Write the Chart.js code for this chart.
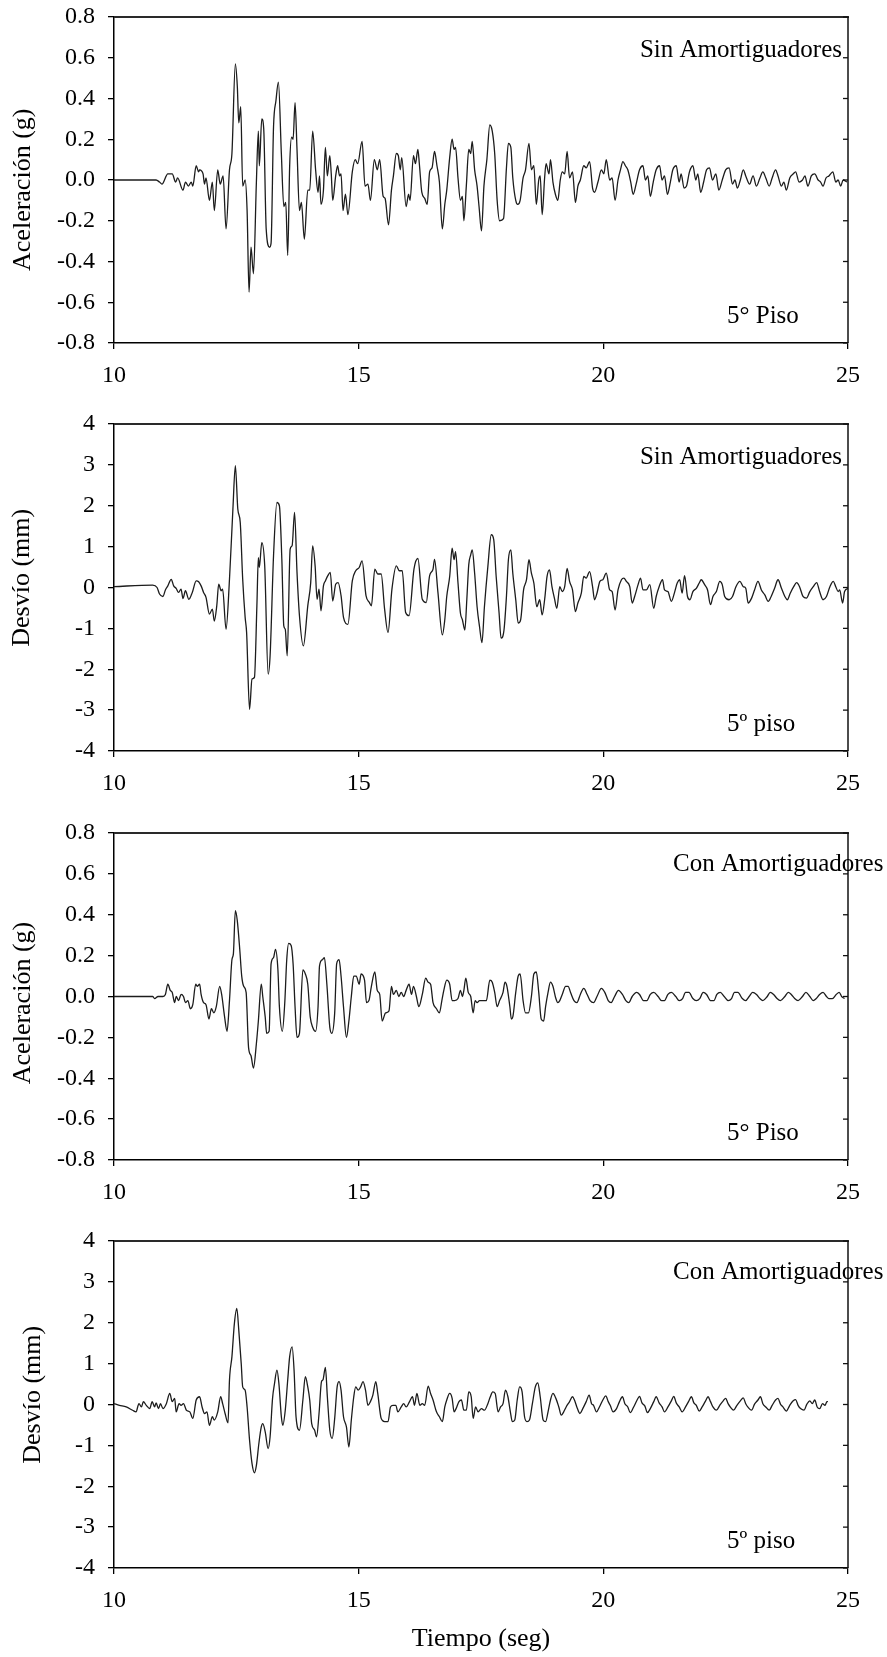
<!DOCTYPE html>
<html>
<head>
<meta charset="utf-8">
<script src="https://cdn.jsdelivr.net/npm/chart.js@4.4.1/dist/chart.umd.min.js"></script>
<style>
  html, body { margin: 0; padding: 0; background: #fff; }
  #wrap { position: relative; width: 887px; height: 1657px; }
  canvas { position: absolute; left: 0; }
</style>
</head>
<body>
<div id="wrap">
  <canvas id="c1" width="887" height="408" style="top:0px"></canvas>
  <canvas id="c2" width="887" height="408" style="top:408px"></canvas>
  <canvas id="c3" width="887" height="408" style="top:816px"></canvas>
  <canvas id="c4" width="887" height="433" style="top:1224px"></canvas>
</div>
<script>
// ejes
const xTicks = [10, 15, 20, 25];
const accTicks = [-0.8, -0.6, -0.4, -0.2, 0, 0.2, 0.4, 0.6, 0.8];
const desTicks = [-4, -3, -2, -1, 0, 1, 2, 3, 4];

// Aceleracion sin amortiguadores (g)
const timeSinAcc = [
  10.00,10.86,10.93,10.98,11.10,11.19,11.26,11.30,11.41,11.46,
  11.52,11.58,11.61,11.68,11.73,11.75,11.82,11.85,11.88,11.95,
  12.01,12.05,12.12,12.17,12.23,12.29,12.36,12.41,12.48,12.52,
  12.55,12.59,12.63,12.68,12.72,12.76,12.80,12.85,12.91,12.95,
  12.97,13.02,13.06,13.11,13.18,13.21,13.26,13.31,13.36,13.42,
  13.47,13.51,13.55,13.59,13.63,13.66,13.70,13.74,13.79,13.83,
  13.89,13.96,14.00,14.06,14.12,14.17,14.20,14.23,14.28,14.32,
  14.36,14.41,14.44,14.47,14.53,14.57,14.61,14.64,14.68,14.73,
  14.78,14.87,14.93,14.98,15.07,15.13,15.19,15.24,15.32,15.38,
  15.43,15.50,15.54,15.61,15.67,15.71,15.77,15.81,15.85,15.88,
  15.97,16.02,16.05,16.12,16.16,16.21,16.24,16.29,16.35,16.40,
  16.45,16.50,16.55,16.60,16.65,
  16.71,16.76,16.80,16.86,16.91,16.95,16.98,17.03,17.08,17.12,
  17.15,17.20,17.25,17.29,17.32,17.37,17.42,17.46,17.51,17.56,
  17.62,17.68,17.73,17.78,17.83,17.88,17.96,18.02,18.06,18.11,
  18.15,18.21,18.25,18.30,18.36,18.41,18.48,18.53,18.58,18.63,
  18.68,18.71,18.75,18.80,18.83,18.89,18.92,18.97,19.02,19.07,
  19.12,19.16,19.21,19.26,19.31,19.37,19.43,19.48,19.53,19.60,
  19.65,19.72,19.78,19.82,19.89,19.96,20.01,20.06,20.13,20.18,
  20.24,20.30,20.35,20.40,20.45,20.50,20.56,20.61,20.67,20.74,
  20.81,20.86,20.91,20.96,21.02,21.08,21.15,21.20,21.25,21.31,
  21.37,21.42,21.49,21.55,21.59,21.65,21.70,21.76,21.83,21.89,
  21.93,21.99,22.05,22.11,22.17,22.23,22.30,22.36,22.43,22.50,
  22.57,22.64,22.69,22.74,22.80,22.86,22.91,22.99,23.06,23.13,
  23.20,23.26,23.32,23.39,23.45,23.52,23.57,23.64,23.69,23.74,
  23.81,23.88,23.93,24.00,24.07,24.12,24.18,24.25,24.32,24.39,
  24.44,24.49,24.55,24.61,24.69,24.75,24.80,24.85,24.90,24.98
];
const accSin = [
  0.00,0.00,-0.01,-0.02,0.03,0.03,-0.01,0.01,-0.05,-0.01,
  -0.03,-0.01,-0.03,0.07,0.04,0.05,0.03,-0.02,0.01,-0.10,
  -0.01,-0.15,0.05,-0.02,0.02,-0.24,0.05,0.13,0.57,0.46,
  0.28,0.36,-0.03,0.00,-0.15,-0.55,-0.33,-0.46,-0.01,0.24,
  0.07,0.30,0.25,-0.24,-0.33,-0.31,0.26,0.39,0.48,0.13,
  -0.13,-0.11,-0.37,0.07,0.21,0.20,0.38,0.15,-0.15,-0.11,
  -0.29,-0.05,-0.05,0.24,0.05,-0.06,0.02,-0.12,-0.05,0.16,
  0.02,0.12,0.03,-0.10,0.02,0.07,0.02,0.03,-0.15,-0.07,
  -0.17,0.04,0.10,0.08,0.19,-0.03,-0.02,-0.10,0.10,0.05,
  0.10,-0.08,-0.09,-0.22,-0.05,0.02,0.13,0.12,0.05,0.11,
  -0.13,-0.07,-0.10,0.12,0.08,0.15,0.08,-0.06,-0.09,-0.12,
  0.04,0.06,0.14,0.07,-0.01,
  -0.24,-0.12,-0.05,0.11,0.20,0.15,0.16,0.01,-0.10,-0.08,
  -0.20,-0.03,0.15,0.13,0.19,0.05,-0.03,-0.13,-0.25,-0.03,
  0.10,0.27,0.24,0.13,-0.10,-0.20,-0.19,0.06,0.18,0.16,
  0.01,-0.10,-0.12,-0.10,0.01,0.05,0.18,0.05,0.07,-0.12,
  0.00,0.02,-0.17,0.01,0.08,0.03,0.10,-0.01,-0.07,-0.10,
  0.00,0.04,0.03,0.14,0.01,0.04,-0.11,-0.03,0.00,0.07,
  0.06,0.09,-0.04,-0.06,-0.01,0.05,0.03,0.10,0.00,0.01,
  -0.10,0.00,0.05,0.09,0.07,0.05,-0.01,-0.07,-0.02,0.05,
  0.07,0.00,0.02,-0.08,-0.01,0.05,0.07,0.00,0.02,-0.07,
  -0.01,0.05,0.07,-0.01,0.03,-0.04,-0.03,0.04,0.07,0.00,
  0.03,-0.06,-0.01,0.05,0.06,0.00,0.03,-0.05,0.00,0.05,
  0.06,-0.02,0.00,-0.04,0.00,0.05,0.02,-0.02,0.02,-0.03,
  0.01,0.04,0.01,-0.03,0.01,0.05,0.02,-0.03,-0.01,-0.05,
  0.01,0.03,0.04,-0.01,0.00,0.02,-0.03,0.02,0.03,0.00,
  -0.01,-0.03,0.01,0.02,0.04,-0.01,0.00,-0.03,0.00,-0.01
];

// Desvio sin amortiguadores (mm)
const timeSinDes = [
  10.00,10.79,10.88,10.93,11.00,11.05,11.10,11.17,11.22,11.27,
  11.32,11.37,11.41,11.46,11.53,11.60,11.68,11.73,11.78,11.83,
  11.88,11.95,12.01,12.05,12.10,12.14,12.19,12.22,12.29,12.36,
  12.43,12.48,12.53,12.58,12.63,12.68,12.71,12.77,12.82,12.87,
  12.92,12.95,12.97,13.02,13.08,13.15,13.19,13.26,13.33,13.38,
  13.43,13.47,13.50,13.54,13.60,13.64,13.69,13.74,13.79,13.87,
  13.96,14.02,14.06,14.11,14.15,14.19,14.23,14.28,14.32,14.37,
  14.42,14.47,14.53,14.58,14.64,14.69,14.78,14.87,14.94,15.01,
  15.07,15.15,15.22,15.26,15.33,15.39,15.46,15.53,15.60,15.68,
  15.77,15.83,15.89,15.96,16.03,16.13,16.21,16.30,16.38,16.45,
  16.52,16.55,16.62,16.71,
  16.76,16.80,16.86,16.91,16.95,16.98,17.03,17.08,17.12,17.17,
  17.21,17.25,17.29,17.32,17.37,17.42,17.47,17.52,17.57,17.64,
  17.71,17.76,17.81,17.87,17.91,17.97,18.02,18.06,18.11,18.15,
  18.21,18.26,18.31,18.37,18.43,18.48,18.53,18.58,18.64,18.70,
  18.75,18.80,18.85,18.90,18.95,19.00,19.05,19.11,19.16,19.21,
  19.26,19.31,19.37,19.43,19.48,19.55,19.60,19.65,19.72,19.78,
  19.82,19.87,19.93,19.99,20.06,20.13,20.18,20.24,20.30,20.37,
  20.42,20.47,20.54,20.59,20.64,20.71,20.76,20.81,20.88,20.95,
  21.03,21.08,21.14,21.21,21.25,21.32,21.39,21.46,21.51,21.56,
  21.61,21.66,21.72,21.77,21.83,21.90,21.96,22.00,22.07,22.13,
  22.19,22.24,22.31,22.38,22.43,22.48,22.57,22.64,22.71,22.79,
  22.86,22.91,22.96,23.03,23.09,23.16,23.23,23.30,23.37,23.43,
  23.50,23.57,23.64,23.71,23.76,23.82,23.89,23.95,24.01,24.08,
  24.15,24.22,24.29,24.36,24.42,24.49,24.56,24.63,24.70,24.75,
  24.80,24.83,24.89,24.93,25.00
];
const desSin = [
  0.02,0.06,0.00,-0.16,-0.22,-0.06,0.04,0.20,0.04,-0.02,
  -0.12,-0.04,-0.27,-0.08,-0.29,-0.12,0.16,0.14,0.04,-0.12,
  -0.24,-0.65,-0.53,-0.82,-0.45,0.08,-0.08,-0.04,-1.02,0.20,
  1.92,2.98,1.92,1.59,0.20,-0.73,-1.10,-2.98,-2.24,-2.20,
  -0.45,0.73,0.49,1.10,0.53,-2.12,-1.67,0.77,2.08,2.00,
  0.69,-0.94,-1.02,-1.67,0.94,1.02,1.84,0.37,-0.69,-1.43,
  -0.45,0.12,1.02,0.53,-0.29,-0.04,-0.57,0.04,0.16,0.29,
  0.37,-0.33,0.08,0.12,-0.20,-0.73,-0.90,0.16,0.41,0.49,
  0.65,-0.20,-0.37,-0.45,0.45,0.33,0.33,-0.53,-1.10,-0.04,
  0.53,0.41,0.41,-0.61,-0.69,0.45,0.71,-0.29,-0.37,0.29,
  0.45,0.69,-0.12,-1.16,
  -0.79,-0.22,0.27,0.96,0.68,0.88,0.11,-0.63,-0.79,-1.04,
  -0.30,0.56,0.80,0.92,0.35,-0.47,-0.96,-1.35,-0.47,0.51,
  1.29,1.17,0.27,-0.63,-1.24,-1.04,-0.22,0.68,0.92,0.35,
  -0.30,-0.87,-0.79,-0.06,0.19,0.68,0.35,0.11,-0.47,-0.30,
  -0.67,-0.30,0.27,0.43,0.02,-0.26,-0.51,0.02,-0.10,0.02,
  0.47,0.15,-0.06,-0.59,-0.38,-0.14,0.27,0.23,0.39,0.02,
  -0.30,-0.14,0.15,0.19,0.35,-0.06,-0.10,-0.55,-0.06,0.19,
  0.23,0.15,0.02,-0.38,-0.22,0.07,0.23,-0.06,-0.06,0.07,
  -0.51,-0.22,0.02,0.19,-0.06,-0.10,-0.34,-0.10,0.11,0.19,
  -0.14,0.29,-0.22,-0.30,-0.10,-0.02,0.11,0.19,0.07,-0.06,
  -0.42,-0.22,-0.10,0.15,0.07,-0.22,-0.30,-0.22,0.02,0.15,
  0.02,-0.02,-0.38,-0.26,-0.06,0.15,-0.06,-0.18,-0.34,-0.22,
  -0.02,0.19,-0.02,-0.22,-0.30,-0.14,0.02,0.12,0.02,-0.22,
  -0.26,-0.10,0.02,0.12,-0.10,-0.30,-0.22,0.02,0.15,0.02,
  -0.10,-0.06,-0.38,-0.10,-0.02
];

// Aceleracion con amortiguadores (g)
const timeConAcc = [
  10.00,10.79,10.83,10.90,11.00,11.05,11.10,11.15,11.19,11.24,
  11.27,11.32,11.37,11.42,11.46,11.51,11.56,11.61,11.67,11.70,
  11.75,11.78,11.83,11.88,11.94,11.99,12.04,12.09,12.16,12.20,
  12.26,12.31,12.36,12.41,12.44,12.48,12.52,12.57,12.61,12.65,
  12.70,12.75,12.80,12.85,12.91,12.95,13.01,13.04,13.09,13.12,
  13.17,13.21,13.26,13.30,13.35,13.38,13.44,13.49,13.53,13.57,
  13.62,13.66,13.70,13.74,13.79,13.86,13.91,13.96,14.01,14.06,
  14.12,14.17,14.20,14.26,14.30,14.35,14.41,14.45,14.51,14.55,
  14.60,14.64,14.69,14.75,14.80,14.85,14.90,14.95,15.01,15.05,
  15.12,15.16,15.21,15.26,15.33,15.38,15.43,15.48,15.55,15.62,
  15.67,15.71,15.77,15.82,15.87,15.92,15.97,16.03,16.08,16.12,
  16.18,16.23,16.30,16.37,16.42,16.47,16.52,16.59,16.65,
  16.70,16.74,16.80,16.86,16.91,16.96,17.03,17.08,17.12,17.15,
  17.19,17.24,17.29,17.34,17.38,17.42,17.47,17.54,17.61,17.68,
  17.73,17.78,17.83,17.88,17.95,17.99,18.03,18.09,18.12,18.15,
  18.21,18.26,18.30,18.36,18.41,18.47,18.53,18.58,18.63,18.68,
  18.73,18.78,18.82,18.87,18.92,18.97,19.03,19.07,19.11,19.16,
  19.23,19.28,19.33,19.40,19.46,19.53,19.60,19.67,19.73,19.80,
  19.87,19.96,20.03,20.10,20.16,20.23,20.31,20.39,20.46,20.52,
  20.59,20.68,20.74,20.82,20.89,20.96,21.03,21.12,21.19,21.25,
  21.32,21.39,21.48,21.55,21.62,21.68,21.75,21.83,21.90,21.97,
  22.04,22.11,22.19,22.26,22.32,22.39,22.47,22.55,22.62,22.68,
  22.75,22.84,22.91,22.98,23.05,23.13,23.20,23.26,23.35,23.41,
  23.48,23.55,23.62,23.71,23.78,23.84,23.91,23.98,24.07,24.14,
  24.22,24.29,24.35,24.42,24.49,24.56,24.61,24.68,24.76,24.82,
  24.87,24.93
];
const accCon = [
  0.00,0.00,-0.01,0.00,0.00,0.01,0.06,0.03,0.02,-0.03,
  0.00,-0.02,0.01,0.00,-0.03,-0.02,-0.06,-0.04,0.06,0.05,
  0.06,0.01,-0.03,-0.04,-0.11,-0.06,-0.08,-0.05,0.05,0.01,
  -0.10,-0.17,-0.02,0.18,0.21,0.42,0.37,0.23,0.10,0.05,
  0.02,-0.25,-0.29,-0.35,-0.23,-0.12,0.06,0.00,-0.10,-0.18,
  -0.17,0.16,0.19,0.23,0.13,-0.05,-0.17,-0.03,0.18,0.26,
  0.25,0.16,-0.05,-0.20,-0.18,0.13,0.11,0.06,-0.10,-0.15,
  -0.17,-0.05,0.15,0.18,0.19,0.06,-0.15,-0.18,-0.08,0.16,
  0.18,0.10,-0.05,-0.20,-0.12,0.00,0.10,0.10,0.06,0.11,
  0.08,-0.03,-0.02,0.05,0.12,0.03,0.01,-0.12,-0.08,-0.07,
  0.05,0.01,0.03,0.00,0.02,0.00,0.03,0.06,0.01,0.05,
  0.00,-0.05,0.01,0.09,0.07,0.06,-0.03,-0.06,-0.08,
  -0.02,0.03,0.08,0.06,-0.02,-0.02,-0.01,0.03,0.00,0.03,
  0.09,0.02,0.00,-0.08,-0.02,-0.03,-0.02,-0.02,-0.02,0.08,
  0.07,0.02,-0.05,-0.02,0.02,0.07,0.05,-0.05,-0.11,-0.10,
  0.02,0.10,0.11,-0.02,-0.08,-0.08,0.00,0.11,0.12,0.02,
  -0.11,-0.12,-0.05,0.02,0.07,0.05,-0.01,-0.03,-0.02,0.01,
  0.05,0.05,0.02,-0.02,-0.03,0.01,0.04,0.01,-0.02,-0.03,
  0.00,0.04,0.02,-0.02,-0.03,0.00,0.03,0.01,-0.02,-0.03,
  0.00,0.02,0.01,-0.02,-0.02,0.01,0.02,0.00,-0.02,-0.02,
  0.01,0.02,0.00,-0.02,-0.01,0.02,0.02,-0.01,-0.02,-0.01,
  0.02,0.01,-0.02,-0.02,0.01,0.02,0.00,-0.02,-0.01,0.02,
  0.02,-0.01,-0.02,0.00,0.02,0.01,-0.01,-0.02,0.00,0.02,
  0.01,-0.01,-0.02,0.00,0.02,0.01,-0.01,-0.02,0.00,0.02,
  0.00,-0.02,-0.01,0.01,0.02,0.00,-0.01,-0.01,0.01,0.02,
  0.00,-0.01
];

// Desvio con amortiguadores (mm)
const timeConDes = [
  10.00,10.11,10.25,10.38,10.45,10.51,10.56,10.60,10.66,10.73,
  10.78,10.83,10.86,10.91,10.95,11.00,11.07,11.14,11.19,11.24,
  11.27,11.33,11.37,11.42,11.48,11.55,11.61,11.68,11.75,11.80,
  11.85,11.90,11.95,12.01,12.05,12.12,12.18,12.22,12.27,12.33,
  12.36,12.41,12.46,12.51,12.55,12.60,12.63,12.68,12.72,12.77,
  12.82,12.87,12.91,12.96,13.01,13.04,13.09,13.15,13.19,13.24,
  13.28,13.33,13.37,13.42,13.45,13.50,13.55,13.59,13.64,13.68,
  13.72,13.79,13.86,13.91,13.96,14.00,14.04,14.10,14.14,14.19,
  14.24,14.27,14.32,14.36,14.41,14.46,14.51,14.56,14.60,14.64,
  14.69,14.75,14.80,14.85,14.90,14.94,14.99,15.04,15.09,15.14,
  15.19,15.24,15.29,15.35,15.39,15.46,15.53,15.60,15.65,15.70,
  15.76,15.80,15.87,15.92,15.97,16.04,16.10,16.14,16.19,16.25,
  16.30,16.35,16.42,16.47,16.52,16.59,16.65,16.71,
  16.76,16.80,16.86,16.91,16.95,16.99,17.05,17.10,17.15,17.20,
  17.25,17.30,17.34,17.39,17.44,17.51,17.57,17.64,17.69,17.74,
  17.79,17.85,17.90,17.95,18.00,18.05,18.10,18.14,18.19,18.24,
  18.29,18.34,18.39,18.44,18.49,18.55,18.61,18.66,18.71,18.77,
  18.82,18.87,18.92,18.97,19.03,19.09,19.14,19.19,19.24,19.31,
  19.37,19.41,19.47,19.52,19.58,19.65,19.71,19.76,19.80,19.86,
  19.92,19.99,20.05,20.10,20.14,20.20,20.27,20.33,20.39,20.44,
  20.50,20.55,20.62,20.69,20.74,20.79,20.85,20.90,20.96,21.03,
  21.08,21.14,21.20,21.25,21.32,21.39,21.44,21.49,21.55,21.61,
  21.68,21.74,21.80,21.85,21.90,21.96,22.02,22.09,22.14,22.19,
  22.24,22.31,22.38,22.45,22.50,22.55,22.60,22.66,22.73,22.80,
  22.86,22.91,22.96,23.03,23.09,23.16,23.21,23.26,23.32,23.39,
  23.45,23.52,23.57,23.62,23.67,23.74,23.81,23.88,23.93,23.98,
  24.03,24.10,24.16,24.22,24.27,24.32,24.37,24.42,24.48,24.53,
  24.57,24.59
];
const desCon = [
  0.02,-0.02,-0.06,-0.14,-0.18,0.02,-0.06,0.07,-0.02,-0.10,
  0.07,-0.06,0.04,-0.10,0.02,-0.10,0.02,0.27,0.07,0.15,
  -0.18,0.02,-0.02,0.02,-0.14,-0.18,-0.34,0.11,0.19,-0.06,
  -0.22,-0.18,-0.51,-0.30,-0.38,-0.18,0.19,0.02,-0.22,-0.45,
  0.60,1.17,1.98,2.35,1.82,1.00,0.43,0.35,-0.06,-0.87,
  -1.44,-1.67,-1.49,-0.96,-0.55,-0.47,-0.67,-1.08,-0.79,0.15,
  0.51,0.84,0.51,-0.30,-0.51,-0.14,0.60,1.17,1.41,0.84,
  -0.30,-0.63,0.11,0.68,0.43,0.11,-0.47,-0.63,-0.79,-0.22,
  0.56,0.60,0.91,0.19,-0.63,-0.83,-0.34,0.43,0.56,0.35,
  -0.30,-0.55,-1.04,-0.38,0.19,0.43,0.35,0.43,0.56,0.35,
  -0.02,0.07,0.23,0.56,0.27,-0.34,-0.42,-0.42,-0.06,-0.02,
  -0.02,-0.18,-0.06,0.02,-0.06,0.07,0.19,-0.02,0.27,-0.02,
  0.02,-0.02,0.45,0.27,0.11,-0.18,-0.30,-0.42,
  -0.06,0.11,0.27,0.15,-0.18,-0.10,0.07,0.11,-0.14,-0.14,
  0.31,0.19,-0.34,-0.06,-0.18,-0.10,-0.14,0.02,0.19,0.31,
  0.27,-0.18,-0.06,0.02,0.35,0.19,-0.18,-0.42,-0.38,0.11,
  0.43,0.31,-0.30,-0.42,-0.38,0.02,0.43,0.53,0.19,-0.38,
  -0.42,-0.18,0.11,0.27,0.15,-0.06,-0.26,-0.18,-0.06,0.07,
  0.19,0.11,-0.10,-0.22,-0.10,0.07,0.23,0.02,-0.02,-0.18,
  -0.06,0.11,0.21,0.07,-0.02,-0.18,-0.10,0.07,0.19,0.02,
  -0.06,-0.20,-0.06,0.11,0.20,0.04,-0.04,-0.20,-0.10,0.07,
  0.19,0.04,-0.06,-0.18,-0.06,0.09,0.20,0.04,-0.06,-0.18,
  -0.06,0.07,0.19,0.04,-0.02,-0.16,-0.06,0.09,0.19,0.07,
  -0.06,-0.14,-0.02,0.09,0.15,0.02,-0.07,-0.14,-0.02,0.09,
  0.16,0.02,-0.07,-0.14,0.01,0.11,0.19,0.02,-0.06,-0.14,
  -0.02,0.11,0.15,0.01,-0.06,-0.16,-0.02,0.09,0.12,-0.02,
  -0.10,-0.14,0.01,0.09,0.02,0.11,-0.06,-0.10,0.02,-0.02,
  0.07,0.07
];

Chart.defaults.font.family = '"Liberation Serif", "Times New Roman", serif';
Chart.defaults.color = '#000';

// marco superior/derecho, ticks interiores y rotulos del panel
const frame = {
  id: 'frame',
  afterDraw(chart, args, opts) {
    const { ctx, chartArea: a, scales: { y } } = chart;
    ctx.save();
    ctx.strokeStyle = '#2a2a2a';
    ctx.lineWidth = 2;
    ctx.beginPath();
    ctx.moveTo(a.left, a.top);
    ctx.lineTo(a.right + 1, a.top);
    ctx.stroke();
    ctx.strokeStyle = '#111';
    ctx.lineWidth = 1.5;
    ctx.beginPath();
    ctx.moveTo(a.right, a.top);
    ctx.lineTo(a.right, a.bottom);
    ctx.stroke();
    ctx.lineWidth = 1.3;
    y.ticks.forEach(t => {
      const py = y.getPixelForValue(t.value);
      ctx.beginPath();
      ctx.moveTo(a.right - 5, py);
      ctx.lineTo(a.right, py);
      ctx.stroke();
    });
    ctx.fillStyle = '#000';
    ctx.font = '25px "Liberation Serif"';
    ctx.textBaseline = 'alphabetic';
    if (opts.noteAlign === 'right') {
      ctx.textAlign = 'right';
      ctx.fillText(opts.note, a.right - 6, a.top + 40);
    } else {
      ctx.textAlign = 'left';
      ctx.fillText(opts.note, a.left + 559, a.top + 38);
    }
    ctx.textAlign = 'left';
    ctx.fillText(opts.floor, a.left + 613, a.bottom - 20);
    ctx.restore();
  }
};

// los espacios desplazan el titulo vertical como en el original
const panels = [
  { id: 'c1', times: timeSinAcc, values: accSin, ticks: accTicks, dec: 1, yTitle: 'Aceleración (g)   ',
    note: 'Sin Amortiguadores', noteAlign: 'right', floor: '5° Piso', height: 408, padTop: 17, plotH: 326, titlePad: 8 },
  { id: 'c2', times: timeSinDes, values: desSin, ticks: desTicks, dec: 0, yTitle: '   Desvío (mm)',
    note: 'Sin Amortiguadores', noteAlign: 'right', floor: '5º piso', height: 408, padTop: 16, plotH: 327, titlePad: 7 },
  { id: 'c3', times: timeConAcc, values: accCon, ticks: accTicks, dec: 1, yTitle: 'Aceleración (g)  ',
    note: 'Con Amortiguadores', noteAlign: 'left', floor: '5° Piso', height: 408, padTop: 17, plotH: 327, titlePad: 8 },
  { id: 'c4', times: timeConDes, values: desCon, ticks: desTicks, dec: 0, yTitle: '   Desvío (mm)',
    note: 'Con Amortiguadores', noteAlign: 'left', floor: '5º piso', height: 433, padTop: 17, plotH: 327, titlePad: 18,
    xTitle: 'Tiempo (seg)' }
];

panels.forEach(p => {
  new Chart(document.getElementById(p.id), {
    type: 'line',
    data: {
      datasets: [{
        data: p.times.map((t, i) => ({ x: t, y: p.values[i] })),
        borderColor: '#1c1c1c',
        borderWidth: 1.3,
        pointRadius: 0,
        cubicInterpolationMode: 'monotone',
        fill: false
      }]
    },
    options: {
      responsive: false,
      animation: false,
      events: [],
      layout: { padding: { top: p.padTop, right: 39, left: 0, bottom: 0 } },
      plugins: {
        legend: { display: false },
        tooltip: { enabled: false },
        frame: { note: p.note, noteAlign: p.noteAlign, floor: p.floor }
      },
      scales: {
        x: {
          type: 'linear',
          min: 10,
          max: 25,
          afterBuildTicks: s => { s.ticks = xTicks.map(v => ({ value: v })); },
          afterFit: s => { s.height = p.height - p.padTop - p.plotH; },
          grid: { drawOnChartArea: false, drawTicks: true, tickLength: 6, color: '#000', lineWidth: 1.3 },
          border: { color: '#000', width: 1.5 },
          ticks: { font: { size: 24 }, color: '#000', padding: 12, maxRotation: 0 },
          title: {
            display: !!p.xTitle,
            text: p.xTitle || '',
            font: { size: 26 },
            color: '#000',
            padding: { top: 0, bottom: 2 }
          }
        },
        y: {
          min: p.ticks[0],
          max: p.ticks[p.ticks.length - 1],
          afterBuildTicks: s => { s.ticks = p.ticks.map(v => ({ value: v })); },
          afterFit: s => { s.width = 114; s.paddingTop = 0; s.paddingBottom = 0; },
          grid: { drawOnChartArea: false, drawTicks: true, tickLength: 6, color: '#000', lineWidth: 1.3 },
          border: { color: '#000', width: 1.5 },
          ticks: { font: { size: 24 }, color: '#000', padding: 13, callback: v => v.toFixed(p.dec) },
          title: {
            display: true,
            text: p.yTitle,
            font: { size: 26 },
            color: '#000',
            padding: { top: p.titlePad, bottom: 0 }
          }
        }
      }
    },
    plugins: [frame]
  });
});
</script>
</body>
</html>
